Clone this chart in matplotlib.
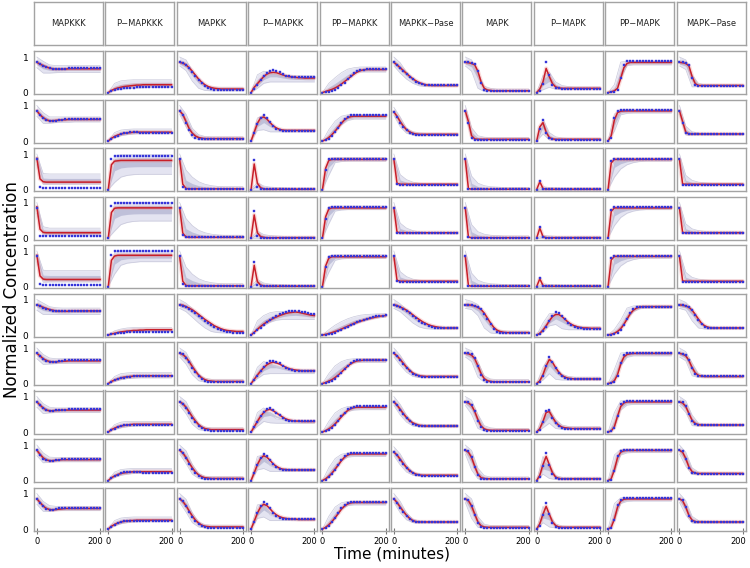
import matplotlib
matplotlib.use("Agg")
import matplotlib.pyplot as plt
import matplotlib.transforms as mtransforms

# species shown as columns
species = ["MAPKKK", "P\u2212MAPKKK", "MAPKK", "P\u2212MAPKK", "PP\u2212MAPKK",
           "MAPKK\u2212Pase", "MAPK", "P\u2212MAPK", "PP\u2212MAPK", "MAPK\u2212Pase"]

times = [0, 10, 20, 30, 40, 50, 60, 70, 80, 90, 100, 110, 120, 130, 140, 150, 160, 170, 180, 190, 200]
band_times = [0, 20, 40, 60, 80, 100, 120, 140, 160, 180, 200]

# values in percent of normalized concentration, one list per condition (row)
MAPKKK_pred = [
    [85, 80, 76, 72, 69, 67, 66, 66, 66, 66, 67, 67, 67, 67, 67, 67, 67, 67, 67, 67, 67],
    [85, 74, 66, 60, 57, 57, 58, 59, 60, 60, 61, 61, 61, 61, 61, 61, 61, 61, 61, 61, 61],
    [88, 30, 22, 21, 21, 21, 21, 21, 21, 21, 21, 21, 21, 21, 21, 21, 21, 21, 21, 21, 21],
    [88, 25, 16, 15, 15, 15, 15, 15, 15, 15, 15, 15, 15, 15, 15, 15, 15, 15, 15, 15, 15],
    [88, 30, 21, 20, 20, 20, 20, 20, 20, 20, 20, 20, 20, 20, 20, 20, 20, 20, 20, 20, 20],
    [85, 82, 78, 75, 72, 70, 68, 67, 67, 67, 67, 68, 68, 68, 68, 68, 68, 68, 68, 68, 68],
    [85, 78, 70, 65, 62, 61, 61, 62, 63, 63, 64, 64, 64, 64, 64, 64, 64, 64, 64, 64, 64],
    [85, 76, 68, 62, 60, 60, 61, 61, 62, 62, 62, 62, 62, 62, 62, 62, 62, 62, 62, 62, 62],
    [85, 74, 64, 58, 56, 56, 57, 58, 59, 59, 59, 59, 59, 59, 59, 59, 59, 59, 59, 59, 59],
    [85, 75, 65, 58, 55, 54, 55, 56, 57, 58, 58, 58, 58, 58, 58, 58, 58, 58, 58, 58, 58],
]
MAPKKK_obs = [
    [85, 80, 75, 71, 68, 66, 65, 65, 66, 67, 68, 69, 69, 70, 70, 70, 70, 70, 70, 70, 70],
    [85, 73, 64, 58, 56, 56, 57, 59, 60, 61, 62, 62, 63, 63, 63, 63, 63, 63, 63, 63, 63],
    [85, 8, 5, 5, 5, 5, 5, 5, 5, 5, 5, 5, 5, 5, 5, 5, 5, 5, 5, 5, 5],
    [85, 6, 5, 5, 5, 5, 5, 5, 5, 5, 5, 5, 5, 5, 5, 5, 5, 5, 5, 5, 5],
    [85, 6, 5, 5, 5, 5, 5, 5, 5, 5, 5, 5, 5, 5, 5, 5, 5, 5, 5, 5, 5],
    [85, 81, 77, 74, 71, 69, 68, 67, 67, 68, 68, 69, 69, 69, 69, 69, 69, 69, 69, 69, 69],
    [85, 77, 69, 63, 60, 60, 61, 63, 64, 65, 66, 66, 66, 66, 66, 66, 66, 66, 66, 66, 66],
    [85, 75, 67, 61, 59, 59, 61, 62, 63, 63, 64, 64, 64, 64, 64, 64, 64, 64, 64, 64, 64],
    [85, 72, 62, 57, 55, 56, 58, 59, 60, 60, 61, 61, 61, 61, 61, 61, 61, 61, 61, 61, 61],
    [85, 74, 64, 57, 54, 54, 56, 58, 59, 60, 60, 60, 60, 60, 60, 60, 60, 60, 60, 60, 60],
]
MAPKKK_lo = [
    [70, 55, 55, 56, 57, 57, 57, 57, 57, 57, 57],
    [70, 50, 50, 52, 53, 53, 54, 54, 54, 54, 54],
    [70, 14, 15, 15, 15, 15, 15, 15, 15, 15, 15],
    [70, 8, 9, 9, 9, 9, 9, 9, 9, 9, 9],
    [70, 12, 13, 13, 13, 13, 13, 13, 13, 13, 13],
    [70, 58, 58, 58, 58, 58, 58, 58, 58, 58, 58],
    [70, 54, 55, 56, 57, 57, 57, 57, 57, 57, 57],
    [70, 52, 54, 55, 55, 55, 55, 55, 55, 55, 55],
    [70, 50, 52, 53, 53, 53, 53, 53, 53, 53, 53],
    [70, 50, 50, 52, 52, 52, 52, 52, 52, 52, 52],
]
MAPKKK_hi = [
    [100, 88, 78, 76, 76, 76, 76, 76, 76, 76, 76],
    [100, 80, 68, 68, 68, 68, 68, 68, 68, 68, 68],
    [100, 45, 44, 44, 44, 44, 44, 44, 44, 44, 44],
    [100, 32, 28, 28, 28, 28, 28, 28, 28, 28, 28],
    [100, 46, 45, 45, 45, 45, 45, 45, 45, 45, 45],
    [100, 90, 80, 77, 76, 76, 76, 76, 76, 76, 76],
    [100, 82, 72, 70, 70, 70, 70, 70, 70, 70, 70],
    [100, 80, 70, 68, 68, 68, 68, 68, 68, 68, 68],
    [100, 78, 66, 65, 65, 65, 65, 65, 65, 65, 65],
    [100, 78, 66, 64, 64, 64, 64, 64, 64, 64, 64],
]

PMAPKKK_pred = [
    [0, 6, 10, 13, 15, 17, 18, 19, 20, 21, 21, 22, 22, 22, 22, 22, 22, 22, 22, 22, 22],
    [0, 8, 13, 17, 20, 22, 23, 24, 25, 25, 25, 25, 25, 25, 25, 25, 25, 25, 25, 25, 25],
    [0, 70, 80, 81, 82, 82, 82, 82, 82, 82, 82, 82, 82, 82, 82, 82, 82, 82, 82, 82, 82],
    [0, 72, 84, 85, 85, 85, 85, 85, 85, 85, 85, 85, 85, 85, 85, 85, 85, 85, 85, 85, 85],
    [0, 74, 86, 88, 88, 88, 88, 88, 88, 88, 88, 88, 88, 88, 88, 88, 88, 88, 88, 88, 88],
    [0, 3, 5, 7, 9, 10, 11, 12, 13, 13, 14, 14, 15, 15, 15, 15, 15, 15, 15, 15, 15],
    [0, 6, 10, 13, 16, 18, 19, 20, 21, 22, 22, 22, 22, 22, 22, 22, 22, 22, 22, 22, 22],
    [0, 7, 11, 15, 17, 19, 20, 21, 22, 22, 22, 22, 22, 22, 22, 22, 22, 22, 22, 22, 22],
    [0, 8, 13, 17, 20, 22, 23, 24, 25, 25, 25, 25, 25, 25, 25, 25, 25, 25, 25, 25, 25],
    [0, 8, 13, 17, 20, 22, 23, 24, 24, 25, 25, 25, 25, 25, 25, 25, 25, 25, 25, 25, 25],
]
PMAPKKK_obs = [
    [0, 4, 7, 9, 11, 12, 13, 14, 14, 15, 15, 15, 15, 15, 15, 15, 15, 15, 15, 15, 15],
    [0, 6, 11, 15, 19, 22, 24, 25, 25, 25, 24, 24, 23, 23, 23, 23, 23, 23, 23, 23, 23],
    [0, 85, 95, 95, 95, 95, 95, 95, 95, 95, 95, 95, 95, 95, 95, 95, 95, 95, 95, 95, 95],
    [0, 90, 100, 100, 100, 100, 100, 100, 100, 100, 100, 100, 100, 100, 100, 100, 100, 100, 100, 100, 100],
    [0, 90, 100, 100, 100, 100, 100, 100, 100, 100, 100, 100, 100, 100, 100, 100, 100, 100, 100, 100, 100],
    [0, 2, 4, 5, 6, 7, 8, 9, 9, 10, 10, 10, 10, 10, 10, 10, 10, 10, 10, 10, 10],
    [0, 5, 9, 12, 15, 17, 18, 19, 20, 20, 20, 20, 20, 20, 20, 20, 20, 20, 20, 20, 20],
    [0, 6, 10, 14, 17, 19, 20, 21, 21, 21, 21, 21, 21, 21, 21, 21, 21, 21, 21, 21, 21],
    [0, 7, 12, 16, 20, 23, 24, 25, 25, 24, 23, 22, 22, 21, 21, 21, 21, 21, 21, 21, 21],
    [0, 7, 12, 16, 19, 22, 23, 23, 23, 23, 22, 22, 22, 22, 22, 22, 22, 22, 22, 22, 22],
]
PMAPKKK_lo = [
    [0, 6, 9, 11, 12, 13, 14, 14, 14, 14, 14],
    [0, 9, 15, 18, 20, 21, 21, 21, 21, 21, 21],
    [0, 20, 35, 40, 42, 43, 43, 43, 43, 43, 43],
    [0, 20, 38, 44, 47, 48, 48, 48, 48, 48, 48],
    [0, 35, 60, 66, 68, 70, 70, 70, 70, 70, 70],
    [0, 3, 6, 8, 9, 10, 10, 10, 10, 10, 10],
    [0, 6, 11, 14, 15, 16, 16, 16, 16, 16, 16],
    [0, 7, 12, 15, 17, 18, 18, 18, 18, 18, 18],
    [0, 9, 15, 18, 20, 21, 21, 21, 21, 21, 21],
    [0, 9, 15, 18, 20, 21, 21, 21, 21, 21, 21],
]
PMAPKKK_hi = [
    [0, 26, 33, 35, 36, 36, 36, 36, 36, 36, 36],
    [0, 24, 31, 33, 34, 34, 34, 34, 34, 34, 34],
    [0, 96, 98, 98, 98, 98, 98, 98, 98, 98, 98],
    [0, 98, 100, 100, 100, 100, 100, 100, 100, 100, 100],
    [0, 98, 100, 100, 100, 100, 100, 100, 100, 100, 100],
    [0, 12, 17, 20, 21, 21, 21, 21, 21, 21, 21],
    [0, 20, 28, 30, 31, 31, 31, 31, 31, 31, 31],
    [0, 21, 28, 30, 30, 30, 30, 30, 30, 30, 30],
    [0, 24, 31, 33, 34, 34, 34, 34, 34, 34, 34],
    [0, 24, 31, 33, 34, 34, 34, 34, 34, 34, 34],
]

MAPKK_pred = [
    [85, 83, 78, 70, 60, 49, 38, 29, 22, 17, 14, 12, 11, 10, 10, 10, 10, 10, 10, 10, 10],
    [85, 75, 55, 35, 22, 14, 10, 8, 7, 7, 7, 7, 7, 7, 7, 7, 7, 7, 7, 7, 7],
    [85, 15, 3, 2, 2, 2, 2, 2, 2, 2, 2, 2, 2, 2, 2, 2, 2, 2, 2, 2, 2],
    [85, 14, 3, 2, 2, 2, 2, 2, 2, 2, 2, 2, 2, 2, 2, 2, 2, 2, 2, 2, 2],
    [85, 15, 3, 2, 2, 2, 2, 2, 2, 2, 2, 2, 2, 2, 2, 2, 2, 2, 2, 2, 2],
    [85, 84, 80, 76, 71, 65, 58, 51, 44, 38, 32, 26, 22, 18, 15, 13, 12, 11, 10, 10, 10],
    [85, 82, 74, 62, 48, 35, 24, 16, 11, 8, 7, 6, 6, 6, 6, 6, 6, 6, 6, 6, 6],
    [85, 80, 70, 57, 43, 31, 21, 14, 10, 8, 7, 7, 7, 7, 7, 7, 7, 7, 7, 7, 7],
    [85, 78, 65, 50, 36, 24, 16, 11, 8, 7, 6, 6, 6, 6, 6, 6, 6, 6, 6, 6, 6],
    [85, 78, 66, 51, 37, 25, 17, 11, 8, 7, 6, 6, 6, 6, 6, 6, 6, 6, 6, 6, 6],
]
MAPKK_obs = [
    [85, 84, 78, 68, 57, 46, 35, 26, 18, 13, 10, 8, 7, 6, 6, 6, 6, 6, 6, 6, 6],
    [85, 74, 52, 32, 18, 10, 6, 5, 5, 5, 5, 5, 5, 5, 5, 5, 5, 5, 5, 5, 5],
    [85, 8, 2, 2, 2, 2, 2, 2, 2, 2, 2, 2, 2, 2, 2, 2, 2, 2, 2, 2, 2],
    [85, 8, 2, 2, 2, 2, 2, 2, 2, 2, 2, 2, 2, 2, 2, 2, 2, 2, 2, 2, 2],
    [85, 8, 2, 2, 2, 2, 2, 2, 2, 2, 2, 2, 2, 2, 2, 2, 2, 2, 2, 2, 2],
    [85, 83, 79, 74, 69, 62, 55, 47, 40, 33, 27, 22, 17, 14, 11, 9, 8, 7, 7, 7, 7],
    [85, 82, 73, 60, 45, 32, 21, 13, 8, 5, 4, 4, 4, 4, 4, 4, 4, 4, 4, 4, 4],
    [85, 80, 69, 55, 40, 28, 18, 11, 7, 5, 4, 4, 4, 4, 4, 4, 4, 4, 4, 4, 4],
    [85, 78, 64, 48, 33, 21, 13, 8, 5, 4, 4, 4, 4, 4, 4, 4, 4, 4, 4, 4, 4],
    [85, 78, 64, 49, 34, 22, 14, 8, 5, 4, 4, 4, 4, 4, 4, 4, 4, 4, 4, 4, 4],
]
MAPKK_lo = [
    [75, 62, 32, 12, 6, 5, 5, 5, 5, 5, 5],
    [75, 40, 10, 4, 3, 3, 3, 3, 3, 3, 3],
    [75, 1, 1, 1, 1, 1, 1, 1, 1, 1, 1],
    [75, 1, 1, 1, 1, 1, 1, 1, 1, 1, 1],
    [75, 1, 1, 1, 1, 1, 1, 1, 1, 1, 1],
    [75, 66, 50, 34, 20, 10, 7, 6, 6, 6, 6],
    [75, 55, 25, 8, 4, 3, 3, 3, 3, 3, 3],
    [75, 52, 22, 7, 4, 3, 3, 3, 3, 3, 3],
    [75, 48, 18, 6, 3, 3, 3, 3, 3, 3, 3],
    [75, 48, 18, 6, 3, 3, 3, 3, 3, 3, 3],
]
MAPKK_hi = [
    [100, 92, 62, 32, 20, 16, 15, 15, 15, 15, 15],
    [100, 76, 36, 18, 13, 12, 12, 12, 12, 12, 12],
    [100, 55, 35, 22, 15, 11, 9, 8, 8, 8, 8],
    [100, 55, 35, 22, 15, 11, 9, 8, 8, 8, 8],
    [100, 55, 35, 22, 15, 11, 9, 8, 8, 8, 8],
    [100, 90, 75, 56, 36, 23, 17, 14, 13, 13, 13],
    [100, 88, 56, 26, 15, 12, 12, 12, 12, 12, 12],
    [100, 86, 52, 24, 14, 12, 12, 12, 12, 12, 12],
    [100, 84, 46, 20, 12, 11, 11, 11, 11, 11, 11],
    [100, 84, 46, 20, 12, 11, 11, 11, 11, 11, 11],
]

PMAPKK_pred = [
    [0, 15, 25, 35, 45, 52, 56, 57, 56, 53, 50, 47, 45, 44, 43, 42, 42, 41, 41, 41, 41],
    [0, 25, 50, 65, 68, 62, 52, 43, 37, 33, 31, 30, 30, 30, 30, 30, 30, 30, 30, 30, 30],
    [0, 72, 18, 5, 2, 1, 1, 1, 1, 1, 1, 1, 1, 1, 1, 1, 1, 1, 1, 1, 1],
    [0, 65, 15, 4, 2, 1, 1, 1, 1, 1, 1, 1, 1, 1, 1, 1, 1, 1, 1, 1, 1],
    [0, 60, 14, 4, 2, 1, 1, 1, 1, 1, 1, 1, 1, 1, 1, 1, 1, 1, 1, 1, 1],
    [0, 8, 16, 24, 31, 37, 42, 47, 51, 55, 58, 61, 63, 64, 65, 64, 62, 60, 58, 56, 55],
    [0, 12, 24, 35, 45, 53, 58, 60, 58, 55, 50, 46, 42, 40, 38, 37, 36, 36, 36, 36, 36],
    [0, 15, 30, 44, 55, 62, 64, 60, 54, 48, 42, 37, 34, 32, 31, 31, 30, 30, 30, 30, 30],
    [0, 22, 45, 62, 70, 66, 57, 47, 40, 35, 32, 31, 30, 30, 30, 30, 30, 30, 30, 30, 30],
    [0, 22, 45, 62, 70, 66, 57, 47, 40, 35, 32, 30, 29, 28, 28, 27, 27, 27, 27, 27, 27],
]
PMAPKK_obs = [
    [0, 10, 22, 34, 46, 56, 62, 63, 61, 57, 52, 48, 46, 45, 44, 44, 43, 43, 43, 43, 43],
    [0, 22, 48, 66, 72, 65, 53, 42, 35, 31, 29, 29, 29, 29, 29, 29, 29, 29, 29, 29, 29],
    [0, 82, 6, 1, 1, 1, 1, 1, 1, 1, 1, 1, 1, 1, 1, 1, 1, 1, 1, 1, 1],
    [0, 75, 5, 1, 1, 1, 1, 1, 1, 1, 1, 1, 1, 1, 1, 1, 1, 1, 1, 1, 1],
    [0, 70, 5, 1, 1, 1, 1, 1, 1, 1, 1, 1, 1, 1, 1, 1, 1, 1, 1, 1, 1],
    [0, 6, 13, 21, 29, 36, 42, 48, 53, 58, 62, 66, 68, 69, 69, 68, 66, 64, 62, 60, 58],
    [0, 10, 22, 35, 47, 57, 63, 64, 62, 57, 50, 44, 40, 37, 36, 35, 35, 35, 35, 35, 35],
    [0, 13, 28, 44, 57, 66, 68, 63, 55, 47, 40, 35, 32, 30, 30, 30, 30, 30, 30, 30, 30],
    [0, 20, 44, 64, 75, 70, 59, 47, 38, 33, 30, 29, 29, 29, 29, 29, 29, 29, 29, 29, 29],
    [0, 20, 44, 64, 75, 70, 58, 46, 38, 32, 29, 28, 27, 27, 27, 27, 27, 27, 27, 27, 27],
]
PMAPKK_lo = [
    [0, 12, 26, 30, 30, 30, 30, 30, 30, 30, 30],
    [0, 30, 32, 26, 26, 26, 26, 26, 26, 26, 26],
    [0, 0, 0, 0, 0, 0, 0, 0, 0, 0, 0],
    [0, 0, 0, 0, 0, 0, 0, 0, 0, 0, 0],
    [0, 0, 0, 0, 0, 0, 0, 0, 0, 0, 0],
    [0, 15, 26, 36, 42, 44, 44, 44, 44, 44, 44],
    [0, 14, 26, 28, 28, 28, 28, 28, 28, 28, 28],
    [0, 16, 30, 26, 25, 25, 25, 25, 25, 25, 25],
    [0, 30, 34, 26, 26, 26, 26, 26, 26, 26, 26],
    [0, 30, 34, 24, 24, 24, 24, 24, 24, 24, 24],
]
PMAPKK_hi = [
    [0, 50, 60, 58, 52, 48, 47, 47, 47, 47, 47],
    [0, 65, 72, 45, 34, 33, 33, 33, 33, 33, 33],
    [0, 20, 10, 7, 6, 5, 4, 4, 4, 4, 4],
    [0, 20, 10, 7, 6, 5, 4, 4, 4, 4, 4],
    [0, 20, 10, 7, 6, 5, 4, 4, 4, 4, 4],
    [0, 40, 55, 63, 66, 66, 64, 62, 60, 58, 57],
    [0, 46, 62, 56, 46, 41, 40, 40, 40, 40, 40],
    [0, 55, 68, 50, 37, 34, 33, 33, 33, 33, 33],
    [0, 68, 72, 42, 34, 33, 33, 33, 33, 33, 33],
    [0, 68, 72, 40, 32, 30, 30, 30, 30, 30, 30],
]

PPMAPKK_pred = [
    [0, 3, 6, 9, 13, 18, 24, 31, 38, 45, 52, 58, 62, 64, 65, 65, 65, 65, 65, 65, 65],
    [0, 4, 10, 18, 28, 39, 50, 60, 66, 69, 70, 70, 70, 70, 70, 70, 70, 70, 70, 70, 70],
    [0, 60, 82, 85, 85, 85, 85, 85, 85, 85, 85, 85, 85, 85, 85, 85, 85, 85, 85, 85, 85],
    [0, 60, 82, 85, 85, 85, 85, 85, 85, 85, 85, 85, 85, 85, 85, 85, 85, 85, 85, 85, 85],
    [0, 58, 80, 84, 84, 84, 84, 84, 84, 84, 84, 84, 84, 84, 84, 84, 84, 84, 84, 84, 84],
    [0, 2, 4, 7, 10, 13, 17, 21, 25, 29, 33, 36, 39, 42, 45, 47, 49, 51, 53, 54, 55],
    [0, 3, 7, 11, 17, 24, 32, 41, 49, 56, 61, 64, 65, 66, 66, 66, 66, 66, 66, 66, 66],
    [0, 4, 9, 15, 23, 33, 43, 53, 61, 66, 69, 70, 70, 70, 70, 70, 70, 70, 70, 70, 70],
    [0, 5, 12, 21, 32, 44, 56, 66, 72, 75, 75, 75, 75, 75, 75, 75, 75, 75, 75, 75, 75],
    [0, 5, 12, 21, 32, 44, 56, 65, 71, 74, 75, 75, 75, 75, 75, 75, 75, 75, 75, 75, 75],
]
PPMAPKK_obs = [
    [0, 2, 3, 5, 8, 13, 20, 28, 37, 46, 54, 60, 63, 64, 65, 65, 65, 65, 65, 65, 65],
    [0, 2, 7, 15, 26, 38, 51, 62, 69, 72, 72, 72, 72, 72, 72, 72, 72, 72, 72, 72, 72],
    [0, 55, 85, 87, 87, 87, 87, 87, 87, 87, 87, 87, 87, 87, 87, 87, 87, 87, 87, 87, 87],
    [0, 55, 85, 87, 87, 87, 87, 87, 87, 87, 87, 87, 87, 87, 87, 87, 87, 87, 87, 87, 87],
    [0, 55, 84, 86, 86, 86, 86, 86, 86, 86, 86, 86, 86, 86, 86, 86, 86, 86, 86, 86, 86],
    [0, 1, 2, 4, 7, 11, 15, 19, 24, 28, 32, 36, 40, 43, 46, 49, 51, 53, 54, 55, 56],
    [0, 2, 4, 8, 14, 22, 31, 41, 50, 58, 63, 66, 67, 67, 67, 67, 67, 67, 67, 67, 67],
    [0, 2, 6, 12, 21, 32, 44, 55, 64, 69, 71, 72, 72, 72, 72, 72, 72, 72, 72, 72, 72],
    [0, 3, 9, 19, 31, 45, 58, 69, 75, 77, 77, 77, 77, 77, 77, 77, 77, 77, 77, 77, 77],
    [0, 3, 9, 19, 31, 45, 58, 68, 74, 76, 76, 76, 76, 76, 76, 76, 76, 76, 76, 76, 76],
]
PPMAPKK_lo = [
    [0, 4, 10, 25, 45, 56, 58, 58, 58, 58, 58],
    [0, 8, 26, 46, 58, 62, 62, 62, 62, 62, 62],
    [0, 40, 76, 79, 80, 80, 80, 80, 80, 80, 80],
    [0, 40, 76, 79, 80, 80, 80, 80, 80, 80, 80],
    [0, 40, 74, 78, 79, 79, 79, 79, 79, 79, 79],
    [0, 3, 8, 15, 22, 30, 37, 42, 46, 49, 51],
    [0, 5, 16, 36, 52, 58, 60, 60, 60, 60, 60],
    [0, 6, 20, 42, 58, 62, 63, 63, 63, 63, 63],
    [0, 8, 30, 56, 66, 68, 68, 68, 68, 68, 68],
    [0, 8, 30, 56, 66, 68, 68, 68, 68, 68, 68],
]
PPMAPKK_hi = [
    [0, 26, 42, 56, 66, 70, 72, 72, 72, 72, 72],
    [0, 32, 56, 70, 74, 75, 75, 75, 75, 75, 75],
    [0, 88, 90, 90, 90, 90, 90, 90, 90, 90, 90],
    [0, 88, 90, 90, 90, 90, 90, 90, 90, 90, 90],
    [0, 87, 89, 89, 89, 89, 89, 89, 89, 89, 89],
    [0, 15, 28, 38, 46, 52, 56, 58, 59, 60, 60],
    [0, 28, 50, 62, 68, 70, 70, 70, 70, 70, 70],
    [0, 30, 54, 66, 72, 73, 73, 73, 73, 73, 73],
    [0, 36, 62, 74, 78, 78, 78, 78, 78, 78, 78],
    [0, 36, 62, 74, 78, 78, 78, 78, 78, 78, 78],
]

MAPKKPase_pred = [
    [85, 78, 70, 62, 54, 46, 39, 33, 28, 25, 22, 21, 20, 20, 20, 20, 20, 20, 20, 20, 20],
    [82, 70, 55, 42, 32, 26, 22, 20, 19, 19, 19, 19, 19, 19, 19, 19, 19, 19, 19, 19, 19],
    [85, 18, 15, 15, 15, 15, 15, 15, 15, 15, 15, 15, 15, 15, 15, 15, 15, 15, 15, 15, 15],
    [85, 17, 15, 15, 15, 15, 15, 15, 15, 15, 15, 15, 15, 15, 15, 15, 15, 15, 15, 15, 15],
    [85, 18, 15, 15, 15, 15, 15, 15, 15, 15, 15, 15, 15, 15, 15, 15, 15, 15, 15, 15, 15],
    [85, 83, 79, 75, 70, 64, 57, 50, 44, 38, 33, 29, 26, 24, 22, 21, 20, 20, 20, 20, 20],
    [85, 78, 68, 57, 46, 37, 30, 25, 22, 21, 20, 20, 20, 20, 20, 20, 20, 20, 20, 20, 20],
    [85, 76, 64, 52, 41, 32, 26, 22, 19, 18, 17, 17, 17, 17, 17, 17, 17, 17, 17, 17, 17],
    [80, 72, 60, 48, 37, 28, 22, 18, 16, 15, 15, 15, 15, 15, 15, 15, 15, 15, 15, 15, 15],
    [85, 75, 62, 50, 39, 30, 24, 21, 20, 20, 20, 20, 20, 20, 20, 20, 20, 20, 20, 20, 20],
]
MAPKKPase_obs = [
    [85, 77, 69, 60, 52, 44, 37, 31, 26, 23, 21, 20, 20, 20, 20, 20, 20, 20, 20, 20, 20],
    [82, 68, 52, 40, 30, 24, 20, 18, 18, 18, 18, 18, 18, 18, 18, 18, 18, 18, 18, 18, 18],
    [85, 15, 14, 14, 14, 14, 14, 14, 14, 14, 14, 14, 14, 14, 14, 14, 14, 14, 14, 14, 14],
    [85, 15, 14, 14, 14, 14, 14, 14, 14, 14, 14, 14, 14, 14, 14, 14, 14, 14, 14, 14, 14],
    [85, 15, 14, 14, 14, 14, 14, 14, 14, 14, 14, 14, 14, 14, 14, 14, 14, 14, 14, 14, 14],
    [85, 82, 78, 73, 67, 61, 54, 47, 41, 35, 30, 26, 23, 21, 20, 19, 19, 19, 19, 19, 19],
    [85, 77, 66, 54, 43, 34, 27, 23, 20, 19, 19, 19, 19, 19, 19, 19, 19, 19, 19, 19, 19],
    [85, 75, 62, 50, 39, 30, 24, 20, 18, 17, 17, 17, 17, 17, 17, 17, 17, 17, 17, 17, 17],
    [80, 71, 58, 46, 35, 26, 20, 16, 15, 14, 14, 14, 14, 14, 14, 14, 14, 14, 14, 14, 14],
    [85, 74, 60, 48, 37, 28, 22, 20, 19, 19, 19, 19, 19, 19, 19, 19, 19, 19, 19, 19, 19],
]
MAPKKPase_lo = [
    [75, 55, 38, 26, 19, 17, 17, 17, 17, 17, 17],
    [72, 40, 22, 17, 16, 16, 16, 16, 16, 16, 16],
    [75, 12, 12, 12, 12, 12, 12, 12, 12, 12, 12],
    [75, 12, 12, 12, 12, 12, 12, 12, 12, 12, 12],
    [75, 12, 12, 12, 12, 12, 12, 12, 12, 12, 12],
    [75, 66, 50, 34, 23, 18, 17, 17, 17, 17, 17],
    [75, 52, 32, 20, 17, 17, 17, 17, 17, 17, 17],
    [75, 48, 28, 17, 15, 14, 14, 14, 14, 14, 14],
    [70, 44, 24, 15, 13, 12, 12, 12, 12, 12, 12],
    [75, 46, 26, 18, 17, 17, 17, 17, 17, 17, 17],
]
MAPKKPase_hi = [
    [100, 84, 58, 38, 27, 24, 23, 23, 23, 23, 23],
    [95, 68, 36, 26, 23, 22, 22, 22, 22, 22, 22],
    [100, 42, 28, 21, 18, 17, 17, 17, 17, 17, 17],
    [100, 42, 28, 21, 18, 17, 17, 17, 17, 17, 17],
    [100, 42, 28, 21, 18, 17, 17, 17, 17, 17, 17],
    [100, 88, 72, 52, 36, 28, 24, 23, 23, 23, 23],
    [100, 80, 52, 32, 25, 23, 23, 23, 23, 23, 23],
    [100, 78, 48, 28, 22, 21, 21, 21, 21, 21, 21],
    [95, 75, 44, 24, 19, 18, 18, 18, 18, 18, 18],
    [100, 78, 46, 28, 23, 22, 22, 22, 22, 22, 22],
]

MAPK_pred = [
    [85, 84, 82, 78, 60, 30, 12, 7, 6, 5, 5, 5, 5, 5, 5, 5, 5, 5, 5, 5, 5],
    [85, 55, 15, 6, 5, 5, 5, 5, 5, 5, 5, 5, 5, 5, 5, 5, 5, 5, 5, 5, 5],
    [85, 3, 1, 1, 1, 1, 1, 1, 1, 1, 1, 1, 1, 1, 1, 1, 1, 1, 1, 1, 1],
    [85, 3, 1, 1, 1, 1, 1, 1, 1, 1, 1, 1, 1, 1, 1, 1, 1, 1, 1, 1, 1],
    [85, 3, 1, 1, 1, 1, 1, 1, 1, 1, 1, 1, 1, 1, 1, 1, 1, 1, 1, 1, 1],
    [85, 85, 84, 82, 78, 72, 62, 48, 34, 22, 14, 10, 8, 7, 7, 7, 7, 7, 7, 7, 7],
    [85, 84, 80, 70, 50, 28, 14, 8, 6, 5, 5, 5, 5, 5, 5, 5, 5, 5, 5, 5, 5],
    [85, 82, 75, 58, 35, 17, 9, 6, 5, 5, 5, 5, 5, 5, 5, 5, 5, 5, 5, 5, 5],
    [85, 80, 65, 40, 18, 8, 6, 5, 5, 5, 5, 5, 5, 5, 5, 5, 5, 5, 5, 5, 5],
    [85, 80, 65, 42, 20, 9, 6, 5, 5, 5, 5, 5, 5, 5, 5, 5, 5, 5, 5, 5, 5],
]
MAPK_obs = [
    [85, 86, 84, 80, 62, 28, 8, 4, 4, 4, 4, 4, 4, 4, 4, 4, 4, 4, 4, 4, 4],
    [85, 50, 10, 4, 4, 4, 4, 4, 4, 4, 4, 4, 4, 4, 4, 4, 4, 4, 4, 4, 4],
    [85, 2, 1, 1, 1, 1, 1, 1, 1, 1, 1, 1, 1, 1, 1, 1, 1, 1, 1, 1, 1],
    [85, 2, 1, 1, 1, 1, 1, 1, 1, 1, 1, 1, 1, 1, 1, 1, 1, 1, 1, 1, 1],
    [85, 2, 1, 1, 1, 1, 1, 1, 1, 1, 1, 1, 1, 1, 1, 1, 1, 1, 1, 1, 1],
    [85, 86, 85, 83, 79, 72, 60, 45, 30, 18, 10, 7, 5, 5, 5, 5, 5, 5, 5, 5, 5],
    [85, 85, 82, 72, 50, 25, 10, 5, 4, 4, 4, 4, 4, 4, 4, 4, 4, 4, 4, 4, 4],
    [85, 84, 77, 58, 32, 14, 6, 4, 4, 4, 4, 4, 4, 4, 4, 4, 4, 4, 4, 4, 4],
    [85, 82, 66, 38, 15, 5, 4, 4, 4, 4, 4, 4, 4, 4, 4, 4, 4, 4, 4, 4, 4],
    [85, 82, 66, 40, 16, 6, 4, 4, 4, 4, 4, 4, 4, 4, 4, 4, 4, 4, 4, 4, 4],
]
MAPK_lo = [
    [75, 60, 12, 3, 3, 3, 3, 3, 3, 3, 3],
    [75, 6, 3, 3, 3, 3, 3, 3, 3, 3, 3],
    [75, 0, 0, 0, 0, 0, 0, 0, 0, 0, 0],
    [75, 0, 0, 0, 0, 0, 0, 0, 0, 0, 0],
    [75, 0, 0, 0, 0, 0, 0, 0, 0, 0, 0],
    [75, 72, 55, 20, 6, 4, 4, 4, 4, 4, 4],
    [75, 62, 18, 4, 3, 3, 3, 3, 3, 3, 3],
    [75, 50, 10, 3, 3, 3, 3, 3, 3, 3, 3],
    [75, 30, 5, 3, 3, 3, 3, 3, 3, 3, 3],
    [75, 30, 5, 3, 3, 3, 3, 3, 3, 3, 3],
]
MAPK_hi = [
    [100, 92, 55, 18, 12, 10, 10, 10, 10, 10, 10],
    [100, 38, 15, 11, 10, 10, 10, 10, 10, 10, 10],
    [100, 38, 18, 11, 8, 7, 6, 6, 6, 6, 6],
    [100, 38, 18, 11, 8, 7, 6, 6, 6, 6, 6],
    [100, 38, 18, 11, 8, 7, 6, 6, 6, 6, 6],
    [100, 95, 86, 58, 26, 15, 12, 11, 11, 11, 11],
    [100, 92, 62, 22, 13, 11, 11, 11, 11, 11, 11],
    [100, 90, 50, 18, 12, 10, 10, 10, 10, 10, 10],
    [100, 85, 35, 14, 10, 10, 10, 10, 10, 10, 10],
    [100, 85, 35, 14, 10, 10, 10, 10, 10, 10, 10],
]

PMAPK_pred = [
    [0, 10, 30, 68, 45, 25, 16, 13, 12, 12, 12, 12, 12, 12, 12, 12, 12, 12, 12, 12, 12],
    [0, 40, 52, 25, 10, 6, 5, 5, 5, 5, 5, 5, 5, 5, 5, 5, 5, 5, 5, 5, 5],
    [0, 22, 3, 1, 1, 1, 1, 1, 1, 1, 1, 1, 1, 1, 1, 1, 1, 1, 1, 1, 1],
    [0, 28, 4, 1, 1, 1, 1, 1, 1, 1, 1, 1, 1, 1, 1, 1, 1, 1, 1, 1, 1],
    [0, 22, 3, 1, 1, 1, 1, 1, 1, 1, 1, 1, 1, 1, 1, 1, 1, 1, 1, 1, 1],
    [0, 5, 14, 26, 40, 52, 58, 58, 52, 44, 36, 30, 26, 23, 21, 20, 20, 19, 19, 19, 19],
    [0, 8, 25, 50, 68, 60, 45, 32, 23, 18, 15, 14, 13, 13, 13, 13, 13, 13, 13, 13, 13],
    [0, 10, 30, 55, 58, 42, 28, 19, 14, 12, 11, 10, 10, 10, 10, 10, 10, 10, 10, 10, 10],
    [0, 15, 45, 68, 45, 22, 10, 6, 5, 5, 5, 5, 5, 5, 5, 5, 5, 5, 5, 5, 5],
    [0, 15, 42, 64, 42, 20, 10, 6, 5, 5, 5, 5, 5, 5, 5, 5, 5, 5, 5, 5, 5],
]
PMAPK_obs = [
    [0, 5, 25, 85, 50, 22, 14, 12, 11, 11, 11, 11, 11, 11, 11, 11, 11, 11, 11, 11, 11],
    [0, 35, 60, 22, 8, 5, 4, 4, 4, 4, 4, 4, 4, 4, 4, 4, 4, 4, 4, 4, 4],
    [0, 25, 2, 1, 1, 1, 1, 1, 1, 1, 1, 1, 1, 1, 1, 1, 1, 1, 1, 1, 1],
    [0, 30, 2, 1, 1, 1, 1, 1, 1, 1, 1, 1, 1, 1, 1, 1, 1, 1, 1, 1, 1],
    [0, 24, 2, 1, 1, 1, 1, 1, 1, 1, 1, 1, 1, 1, 1, 1, 1, 1, 1, 1, 1],
    [0, 3, 11, 24, 40, 55, 64, 62, 55, 45, 35, 28, 24, 21, 19, 18, 18, 18, 18, 18, 18],
    [0, 5, 22, 50, 75, 62, 44, 30, 20, 15, 13, 12, 12, 12, 12, 12, 12, 12, 12, 12, 12],
    [0, 6, 28, 58, 62, 40, 25, 16, 11, 9, 8, 8, 8, 8, 8, 8, 8, 8, 8, 8, 8],
    [0, 10, 42, 78, 45, 18, 7, 4, 4, 4, 4, 4, 4, 4, 4, 4, 4, 4, 4, 4, 4],
    [0, 10, 40, 72, 42, 17, 7, 4, 4, 4, 4, 4, 4, 4, 4, 4, 4, 4, 4, 4, 4],
]
PMAPK_lo = [
    [0, 8, 15, 9, 9, 9, 9, 9, 9, 9, 9],
    [0, 20, 3, 3, 3, 3, 3, 3, 3, 3, 3],
    [0, 0, 0, 0, 0, 0, 0, 0, 0, 0, 0],
    [0, 0, 0, 0, 0, 0, 0, 0, 0, 0, 0],
    [0, 0, 0, 0, 0, 0, 0, 0, 0, 0, 0],
    [0, 8, 26, 30, 18, 15, 15, 15, 15, 15, 15],
    [0, 10, 28, 12, 10, 10, 10, 10, 10, 10, 10],
    [0, 12, 25, 10, 8, 8, 8, 8, 8, 8, 8],
    [0, 18, 6, 3, 3, 3, 3, 3, 3, 3, 3],
    [0, 18, 6, 3, 3, 3, 3, 3, 3, 3, 3],
]
PMAPK_hi = [
    [0, 48, 58, 30, 20, 17, 16, 16, 16, 16, 16],
    [0, 62, 24, 12, 9, 8, 8, 8, 8, 8, 8],
    [0, 8, 6, 5, 4, 4, 4, 4, 4, 4, 4],
    [0, 8, 6, 5, 4, 4, 4, 4, 4, 4, 4],
    [0, 8, 6, 5, 4, 4, 4, 4, 4, 4, 4],
    [0, 34, 60, 62, 46, 32, 26, 24, 23, 23, 23],
    [0, 46, 74, 44, 26, 20, 18, 18, 18, 18, 18],
    [0, 50, 64, 36, 20, 16, 15, 15, 15, 15, 15],
    [0, 68, 44, 14, 9, 8, 8, 8, 8, 8, 8],
    [0, 64, 42, 14, 9, 8, 8, 8, 8, 8, 8],
]

PPMAPK_pred = [
    [0, 2, 5, 12, 40, 70, 82, 85, 85, 85, 85, 85, 85, 85, 85, 85, 85, 85, 85, 85, 85],
    [0, 15, 60, 80, 84, 85, 85, 85, 85, 85, 85, 85, 85, 85, 85, 85, 85, 85, 85, 85, 85],
    [0, 75, 85, 85, 85, 85, 85, 85, 85, 85, 85, 85, 85, 85, 85, 85, 85, 85, 85, 85, 85],
    [0, 75, 85, 85, 85, 85, 85, 85, 85, 85, 85, 85, 85, 85, 85, 85, 85, 85, 85, 85, 85],
    [0, 75, 85, 85, 85, 85, 85, 85, 85, 85, 85, 85, 85, 85, 85, 85, 85, 85, 85, 85, 85],
    [0, 2, 5, 10, 18, 30, 45, 60, 70, 76, 79, 80, 80, 80, 80, 80, 80, 80, 80, 80, 80],
    [0, 2, 8, 25, 55, 75, 82, 84, 85, 85, 85, 85, 85, 85, 85, 85, 85, 85, 85, 85, 85],
    [0, 3, 15, 45, 72, 82, 85, 85, 85, 85, 85, 85, 85, 85, 85, 85, 85, 85, 85, 85, 85],
    [0, 5, 30, 65, 80, 84, 85, 85, 85, 85, 85, 85, 85, 85, 85, 85, 85, 85, 85, 85, 85],
    [0, 5, 28, 62, 79, 84, 85, 85, 85, 85, 85, 85, 85, 85, 85, 85, 85, 85, 85, 85, 85],
]
PPMAPK_obs = [
    [0, 1, 3, 8, 42, 78, 88, 88, 88, 88, 88, 88, 88, 88, 88, 88, 88, 88, 88, 88, 88],
    [0, 10, 65, 85, 88, 88, 88, 88, 88, 88, 88, 88, 88, 88, 88, 88, 88, 88, 88, 88, 88],
    [0, 80, 87, 87, 87, 87, 87, 87, 87, 87, 87, 87, 87, 87, 87, 87, 87, 87, 87, 87, 87],
    [0, 80, 87, 87, 87, 87, 87, 87, 87, 87, 87, 87, 87, 87, 87, 87, 87, 87, 87, 87, 87],
    [0, 80, 87, 87, 87, 87, 87, 87, 87, 87, 87, 87, 87, 87, 87, 87, 87, 87, 87, 87, 87],
    [0, 1, 3, 7, 15, 28, 45, 62, 73, 78, 80, 80, 80, 80, 80, 80, 80, 80, 80, 80, 80],
    [0, 1, 5, 22, 58, 80, 86, 87, 87, 87, 87, 87, 87, 87, 87, 87, 87, 87, 87, 87, 87],
    [0, 2, 12, 45, 78, 86, 87, 87, 87, 87, 87, 87, 87, 87, 87, 87, 87, 87, 87, 87, 87],
    [0, 3, 28, 70, 84, 87, 87, 87, 87, 87, 87, 87, 87, 87, 87, 87, 87, 87, 87, 87, 87],
    [0, 3, 26, 68, 83, 87, 87, 87, 87, 87, 87, 87, 87, 87, 87, 87, 87, 87, 87, 87, 87],
]
PPMAPK_lo = [
    [0, 3, 40, 76, 78, 78, 78, 78, 78, 78, 78],
    [0, 28, 74, 78, 79, 79, 79, 79, 79, 79, 79],
    [0, 35, 58, 70, 76, 79, 80, 80, 80, 80, 80],
    [0, 35, 58, 70, 76, 79, 80, 80, 80, 80, 80],
    [0, 35, 58, 70, 76, 79, 80, 80, 80, 80, 80],
    [0, 5, 15, 45, 66, 74, 76, 76, 76, 76, 76],
    [0, 8, 50, 74, 78, 78, 78, 78, 78, 78, 78],
    [0, 14, 62, 76, 78, 78, 78, 78, 78, 78, 78],
    [0, 25, 72, 78, 79, 79, 79, 79, 79, 79, 79],
    [0, 25, 72, 78, 79, 79, 79, 79, 79, 79, 79],
]
PPMAPK_hi = [
    [0, 22, 86, 88, 88, 88, 88, 88, 88, 88, 88],
    [0, 76, 88, 88, 88, 88, 88, 88, 88, 88, 88],
    [0, 88, 88, 88, 88, 88, 88, 88, 88, 88, 88],
    [0, 88, 88, 88, 88, 88, 88, 88, 88, 88, 88],
    [0, 88, 88, 88, 88, 88, 88, 88, 88, 88, 88],
    [0, 16, 42, 76, 82, 83, 83, 83, 83, 83, 83],
    [0, 40, 86, 88, 88, 88, 88, 88, 88, 88, 88],
    [0, 55, 88, 88, 88, 88, 88, 88, 88, 88, 88],
    [0, 72, 88, 88, 88, 88, 88, 88, 88, 88, 88],
    [0, 72, 88, 88, 88, 88, 88, 88, 88, 88, 88],
]

MAPKPase_pred = [
    [85, 84, 82, 75, 45, 25, 20, 20, 20, 20, 20, 20, 20, 20, 20, 20, 20, 20, 20, 20, 20],
    [85, 55, 25, 20, 20, 20, 20, 20, 20, 20, 20, 20, 20, 20, 20, 20, 20, 20, 20, 20, 20],
    [85, 16, 15, 15, 15, 15, 15, 15, 15, 15, 15, 15, 15, 15, 15, 15, 15, 15, 15, 15, 15],
    [85, 16, 15, 15, 15, 15, 15, 15, 15, 15, 15, 15, 15, 15, 15, 15, 15, 15, 15, 15, 15],
    [85, 16, 15, 15, 15, 15, 15, 15, 15, 15, 15, 15, 15, 15, 15, 15, 15, 15, 15, 15, 15],
    [85, 84, 82, 78, 70, 58, 45, 33, 26, 22, 20, 20, 20, 20, 20, 20, 20, 20, 20, 20, 20],
    [85, 83, 78, 65, 45, 30, 23, 21, 20, 20, 20, 20, 20, 20, 20, 20, 20, 20, 20, 20, 20],
    [85, 82, 72, 52, 33, 24, 21, 20, 20, 20, 20, 20, 20, 20, 20, 20, 20, 20, 20, 20, 20],
    [85, 80, 62, 38, 25, 21, 20, 20, 20, 20, 20, 20, 20, 20, 20, 20, 20, 20, 20, 20, 20],
    [85, 80, 62, 38, 25, 21, 20, 20, 20, 20, 20, 20, 20, 20, 20, 20, 20, 20, 20, 20, 20],
]
MAPKPase_obs = [
    [85, 85, 83, 78, 42, 22, 19, 19, 19, 19, 19, 19, 19, 19, 19, 19, 19, 19, 19, 19, 19],
    [85, 50, 22, 19, 19, 19, 19, 19, 19, 19, 19, 19, 19, 19, 19, 19, 19, 19, 19, 19, 19],
    [85, 14, 14, 14, 14, 14, 14, 14, 14, 14, 14, 14, 14, 14, 14, 14, 14, 14, 14, 14, 14],
    [85, 14, 14, 14, 14, 14, 14, 14, 14, 14, 14, 14, 14, 14, 14, 14, 14, 14, 14, 14, 14],
    [85, 14, 14, 14, 14, 14, 14, 14, 14, 14, 14, 14, 14, 14, 14, 14, 14, 14, 14, 14, 14],
    [85, 85, 83, 79, 70, 57, 42, 30, 24, 21, 20, 20, 20, 20, 20, 20, 20, 20, 20, 20, 20],
    [85, 84, 80, 66, 43, 27, 21, 20, 20, 20, 20, 20, 20, 20, 20, 20, 20, 20, 20, 20, 20],
    [85, 84, 73, 52, 30, 22, 20, 19, 19, 19, 19, 19, 19, 19, 19, 19, 19, 19, 19, 19, 19],
    [85, 82, 62, 35, 22, 20, 19, 19, 19, 19, 19, 19, 19, 19, 19, 19, 19, 19, 19, 19, 19],
    [85, 82, 62, 36, 23, 20, 19, 19, 19, 19, 19, 19, 19, 19, 19, 19, 19, 19, 19, 19, 19],
]
MAPKPase_lo = [
    [75, 65, 16, 17, 17, 17, 17, 17, 17, 17, 17],
    [75, 17, 17, 17, 17, 17, 17, 17, 17, 17, 17],
    [75, 12, 12, 12, 12, 12, 12, 12, 12, 12, 12],
    [75, 12, 12, 12, 12, 12, 12, 12, 12, 12, 12],
    [75, 12, 12, 12, 12, 12, 12, 12, 12, 12, 12],
    [75, 70, 40, 20, 17, 17, 17, 17, 17, 17, 17],
    [75, 64, 22, 17, 17, 17, 17, 17, 17, 17, 17],
    [75, 55, 18, 17, 17, 17, 17, 17, 17, 17, 17],
    [75, 40, 17, 17, 17, 17, 17, 17, 17, 17, 17],
    [75, 40, 17, 17, 17, 17, 17, 17, 17, 17, 17],
]
MAPKPase_hi = [
    [100, 92, 50, 26, 22, 22, 22, 22, 22, 22, 22],
    [100, 42, 26, 23, 22, 22, 22, 22, 22, 22, 22],
    [100, 40, 26, 21, 19, 18, 18, 18, 18, 18, 18],
    [100, 40, 26, 21, 19, 18, 18, 18, 18, 18, 18],
    [100, 40, 26, 21, 19, 18, 18, 18, 18, 18, 18],
    [100, 92, 74, 40, 26, 23, 22, 22, 22, 22, 22],
    [100, 90, 58, 28, 23, 22, 22, 22, 22, 22, 22],
    [100, 88, 48, 25, 22, 22, 22, 22, 22, 22, 22],
    [100, 80, 36, 24, 22, 22, 22, 22, 22, 22, 22],
    [100, 80, 36, 24, 22, 22, 22, 22, 22, 22, 22],
]

columns = [
    (MAPKKK_pred, MAPKKK_obs, MAPKKK_lo, MAPKKK_hi),
    (PMAPKKK_pred, PMAPKKK_obs, PMAPKKK_lo, PMAPKKK_hi),
    (MAPKK_pred, MAPKK_obs, MAPKK_lo, MAPKK_hi),
    (PMAPKK_pred, PMAPKK_obs, PMAPKK_lo, PMAPKK_hi),
    (PPMAPKK_pred, PPMAPKK_obs, PPMAPKK_lo, PPMAPKK_hi),
    (MAPKKPase_pred, MAPKKPase_obs, MAPKKPase_lo, MAPKKPase_hi),
    (MAPK_pred, MAPK_obs, MAPK_lo, MAPK_hi),
    (PMAPK_pred, PMAPK_obs, PMAPK_lo, PMAPK_hi),
    (PPMAPK_pred, PPMAPK_obs, PPMAPK_lo, PPMAPK_hi),
    (MAPKPase_pred, MAPKPase_obs, MAPKPase_lo, MAPKPase_hi),
]

W, H = 750, 568
fig = plt.figure(figsize=(W / 100, H / 100), dpi=100)

col_left, col_step, col_w = 34, 71.4, 69
row_top, row_step, row_h = 51, 48.5, 43
frame = "#a3a3a3"


def px_axes(x, y, w, h):
    return fig.add_axes([x / W, 1 - (y + h) / H, w / W, h / H])


# header boxes
for c, name in enumerate(species):
    ax = px_axes(col_left + c * col_step, 2, col_w, 43)
    ax.set_xticks([])
    ax.set_yticks([])
    for s in ax.spines.values():
        s.set_color(frame)
        s.set_linewidth(1.0)
    ax.text(0.5, 0.5, name, ha="center", va="center", fontsize=6, color="#222222",
            transform=ax.transAxes)

# shift for the right hand "200" label so it does not run into the next "0"
shift = mtransforms.ScaledTranslation(3 / 100, 0, fig.dpi_scale_trans)

n_rows = len(MAPKKK_pred)
for c, (pred, obs, lo, hi) in enumerate(columns):
    for r in range(n_rows):
        ax = px_axes(col_left + c * col_step, row_top + r * row_step, col_w, row_h)
        p = [v / 100 for v in pred[r]]
        o = [v / 100 for v in obs[r]]
        l = [v / 100 for v in lo[r]]
        h = [v / 100 for v in hi[r]]
        pc = p[::2]
        il = [a + 0.45 * (b - a) for a, b in zip(pc, l)]
        ih = [a + 0.45 * (b - a) for a, b in zip(pc, h)]

        ax.fill_between(band_times, l, h, color="#e4e4f1", lw=0)
        ax.plot(band_times, l, color="#c9c9db", lw=0.5)
        ax.plot(band_times, h, color="#c9c9db", lw=0.5)
        ax.fill_between(band_times, il, ih, color="#b0b2d0", alpha=0.7, lw=0)
        ax.plot(times, p, color="#ee8888", lw=3, alpha=0.3, solid_capstyle="round")
        ax.plot(times, p, color="#c81e28", lw=1.1)
        ax.plot(times, o, ls="none", marker="s", ms=1.5, color="#2a2ad0",
                mec="#4848e8", mew=0.3)

        ax.set_xlim(-9, 209)
        ax.set_ylim(-0.04, 1.17)
        for s in ax.spines.values():
            s.set_color(frame)
            s.set_linewidth(1.0)

        ax.set_xticks([0, 200])
        if r == n_rows - 1:
            ax.set_xticklabels(["0", "200"])
            ax.tick_params(axis="x", direction="inout", length=4, color="#777777",
                           labelsize=6, pad=3)
            lab = ax.get_xticklabels()[1]
            lab.set_ha("right")
            lab.set_transform(lab.get_transform() + shift)
        else:
            ax.set_xticklabels([])
            ax.tick_params(axis="x", length=0)

        ax.set_yticks([0, 1])
        if c == 0:
            ax.set_yticklabels(["0", "1"])
            ax.tick_params(axis="y", length=0, labelsize=6.5, pad=4)
        else:
            ax.set_yticklabels([])
            ax.tick_params(axis="y", length=0)

fig.text(0.016, 0.49, "Normalized Concentration", rotation=90, ha="center",
         va="center", fontsize=12)
fig.text(0.522, 0.025, "Time (minutes)", ha="center", va="center", fontsize=11)

fig.savefig("out.png", dpi=100)
